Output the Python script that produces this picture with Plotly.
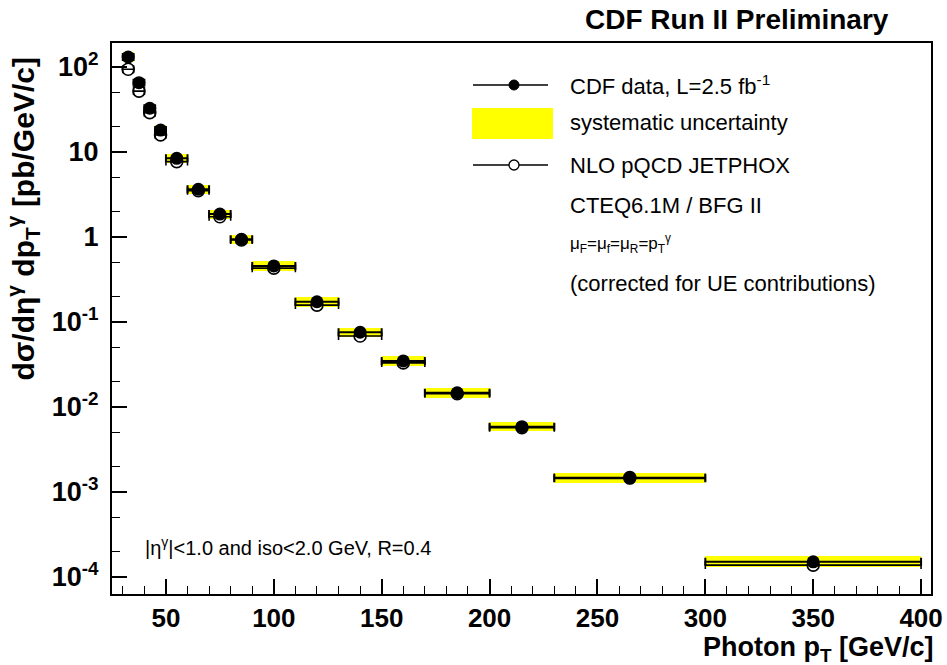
import plotly.graph_objects as go

# ---------------- data ----------------
bin_lo = [30, 35, 40, 45, 50, 60, 70, 80, 90, 110, 130, 150, 170, 200, 230, 300]
bin_hi = [35, 40, 45, 50, 60, 70, 80, 90, 110, 130, 150, 170, 200, 230, 300, 400]
pt_center = [32.5, 37.5, 42.5, 47.5, 55, 65, 75, 85, 100, 120, 140, 160, 185, 215, 265, 350]
cdf_data = [131, 65.4, 32.7, 18.1, 8.43, 3.64, 1.86, 0.94, 0.456, 0.173, 0.0757, 0.0348,
            0.0147, 0.00587, 0.00145, 1.51e-4]
nlo_theory = [94, 52, 29, 15.9, 7.7, 3.5, 1.73, 0.92, 0.43, 0.158, 0.0685, 0.033,
              0.0143, 0.0057, 0.00148, 1.38e-4]
sys_up = [150, 74, 37, 20.5, 9.5, 4.1, 2.1, 1.06, 0.515, 0.196, 0.086, 0.0395,
          0.0167, 0.0067, 0.00166, 1.78e-4]
sys_down = [114, 57, 28.5, 15.8, 7.4, 3.2, 1.64, 0.83, 0.40, 0.152, 0.0665, 0.0305,
            0.0129, 0.0052, 0.00127, 1.30e-4]

y_tickvals = [1e2, 10, 1, 1e-1, 1e-2, 1e-3, 1e-4]
y_ticktext = ["10<sup>2</sup>", "10", "1", "10<sup>-1</sup>", "10<sup>-2</sup>",
              "10<sup>-3</sup>", "10<sup>-4</sup>"]
x_tickvals = [50, 100, 150, 200, 250, 300, 350, 400]

legend_labels = ["CDF data, L=2.5 fb<sup>-1</sup>", "systematic uncertainty",
                 "NLO pQCD JETPHOX", "CTEQ6.1M / BFG II",
                 "μ<sub>F</sub>=μ<sub>f</sub>=μ<sub>R</sub>=p<sub>T</sub><sup>γ</sup>",
                 "(corrected for UE contributions)"]

# ---------------- layout geometry ----------------
W, H = 947, 665
L, R, T, B = 112, 931, 43, 594
FONT = "Liberation Sans, Arial, Helvetica, sans-serif"


def px(x):
    return (x - L) / (R - L)


def py(y):
    return (B - y) / (B - T)


half_w = [(h - l) / 2 for l, h in zip(bin_lo, bin_hi)]
widths = [h - l for l, h in zip(bin_lo, bin_hi)]

fig = go.Figure()

# systematic uncertainty boxes
fig.add_trace(go.Bar(
    x=pt_center, base=sys_down, y=[u - d for u, d in zip(sys_up, sys_down)],
    width=widths, marker=dict(color="#ffff00", line=dict(width=0)),
    showlegend=False, hoverinfo="skip"))

# NLO theory (open circles)
fig.add_trace(go.Scatter(
    x=pt_center, y=nlo_theory, mode="markers",
    marker=dict(symbol="circle-open", size=12, color="black", line=dict(width=1.6)),
    error_x=dict(type="data", array=half_w, color="black", thickness=1.6, width=4),
    showlegend=False))

# CDF data (filled circles)
fig.add_trace(go.Scatter(
    x=pt_center, y=cdf_data, mode="markers",
    marker=dict(symbol="circle", size=13, color="black"),
    error_x=dict(type="data", array=half_w, color="black", thickness=2, width=4),
    showlegend=False))

shapes = []
annotations = []

# ---- manual legend ----
leg_y = [85, 123, 165, 205, 243, 283]
shapes.append(dict(type="line", xref="paper", yref="paper", x0=px(473), x1=px(548),
                   y0=py(leg_y[0]), y1=py(leg_y[0]), line=dict(color="black", width=1.5)))
shapes.append(dict(type="circle", xref="paper", yref="paper", x0=px(509), x1=px(519),
                   y0=py(leg_y[0] + 5), y1=py(leg_y[0] - 5), fillcolor="black",
                   line=dict(color="black", width=1)))
shapes.append(dict(type="rect", xref="paper", yref="paper", x0=px(472), x1=px(553),
                   y0=py(139), y1=py(108), fillcolor="#ffff00", line=dict(width=0)))
shapes.append(dict(type="line", xref="paper", yref="paper", x0=px(473), x1=px(548),
                   y0=py(leg_y[2]), y1=py(leg_y[2]), line=dict(color="black", width=1.5)))
shapes.append(dict(type="circle", xref="paper", yref="paper", x0=px(509), x1=px(519),
                   y0=py(leg_y[2] + 5), y1=py(leg_y[2] - 5), fillcolor="white",
                   line=dict(color="black", width=1.3)))

for lab, yy in zip(legend_labels, leg_y):
    annotations.append(dict(text=lab, xref="paper", yref="paper", x=px(568), y=py(yy),
                            xanchor="left", yanchor="middle", showarrow=False,
                            font=dict(family=FONT, size=22 if "μ" not in lab else 17,
                                      color="black")))

# title
annotations.append(dict(text="<b>CDF Run II Preliminary</b>", xref="paper", yref="paper",
                        x=px(891), y=py(20), xanchor="right", yanchor="middle",
                        showarrow=False, font=dict(family=FONT, size=28, color="black")))
# cut text
annotations.append(dict(text="|η<sup>γ</sup>|&lt;1.0 and iso&lt;2.0 GeV, R=0.4", xref="paper",
                        yref="paper", x=px(143), y=py(546), xanchor="left", yanchor="middle",
                        showarrow=False, font=dict(family=FONT, size=20, color="black")))
# x title
annotations.append(dict(text="<b>Photon p<sub>T</sub> [GeV/c]</b>", xref="paper", yref="paper",
                        x=px(936), y=py(649), xanchor="right", yanchor="middle",
                        showarrow=False, font=dict(family=FONT, size=27, color="black")))
# y title
annotations.append(dict(text="<b>dσ/dη<sup>γ</sup> dp<sub>T</sub><sup>γ</sup> [pb/GeV/c]</b>",
                        xref="paper", yref="paper", x=px(23), y=py(56), xanchor="center",
                        yanchor="top", textangle=-90, showarrow=False,
                        font=dict(family=FONT, size=30, color="black")))

fig.update_layout(
    width=W, height=H,
    margin=dict(l=L, r=W - R, t=T, b=H - B, pad=0),
    paper_bgcolor="white", plot_bgcolor="white",
    shapes=shapes, annotations=annotations,
    bargap=0, showlegend=False,
    font=dict(family=FONT, color="black"),
    xaxis=dict(range=[25, 404.6], tickvals=x_tickvals, ticks="inside", ticklen=15,
               tickwidth=1.5, tickcolor="black", showgrid=False, zeroline=False,
               showline=True, linecolor="black", linewidth=2, mirror=True, automargin=False,
               ticklabelstandoff=0,
               tickfont=dict(family=FONT, size=26, color="black", weight="bold"),
               minor=dict(ticks="inside", ticklen=8, dtick=10, tickwidth=1.2,
                          tickcolor="black", showgrid=False)),
    yaxis=dict(type="log", range=[-4.2, 2.282], tickvals=y_tickvals, ticktext=y_ticktext,
               ticks="inside", ticklen=15, tickwidth=1.5, tickcolor="black",
               showgrid=False, zeroline=False, showline=True, linecolor="black",
               linewidth=2, mirror=True, ticklabelstandoff=6, automargin=False,
               tickfont=dict(family=FONT, size=27, color="black", weight="bold"),
               minor=dict(ticks="inside", ticklen=8, tickwidth=1.2, tickcolor="black",
                          showgrid=False)),
)

fig.write_html("out.html")
